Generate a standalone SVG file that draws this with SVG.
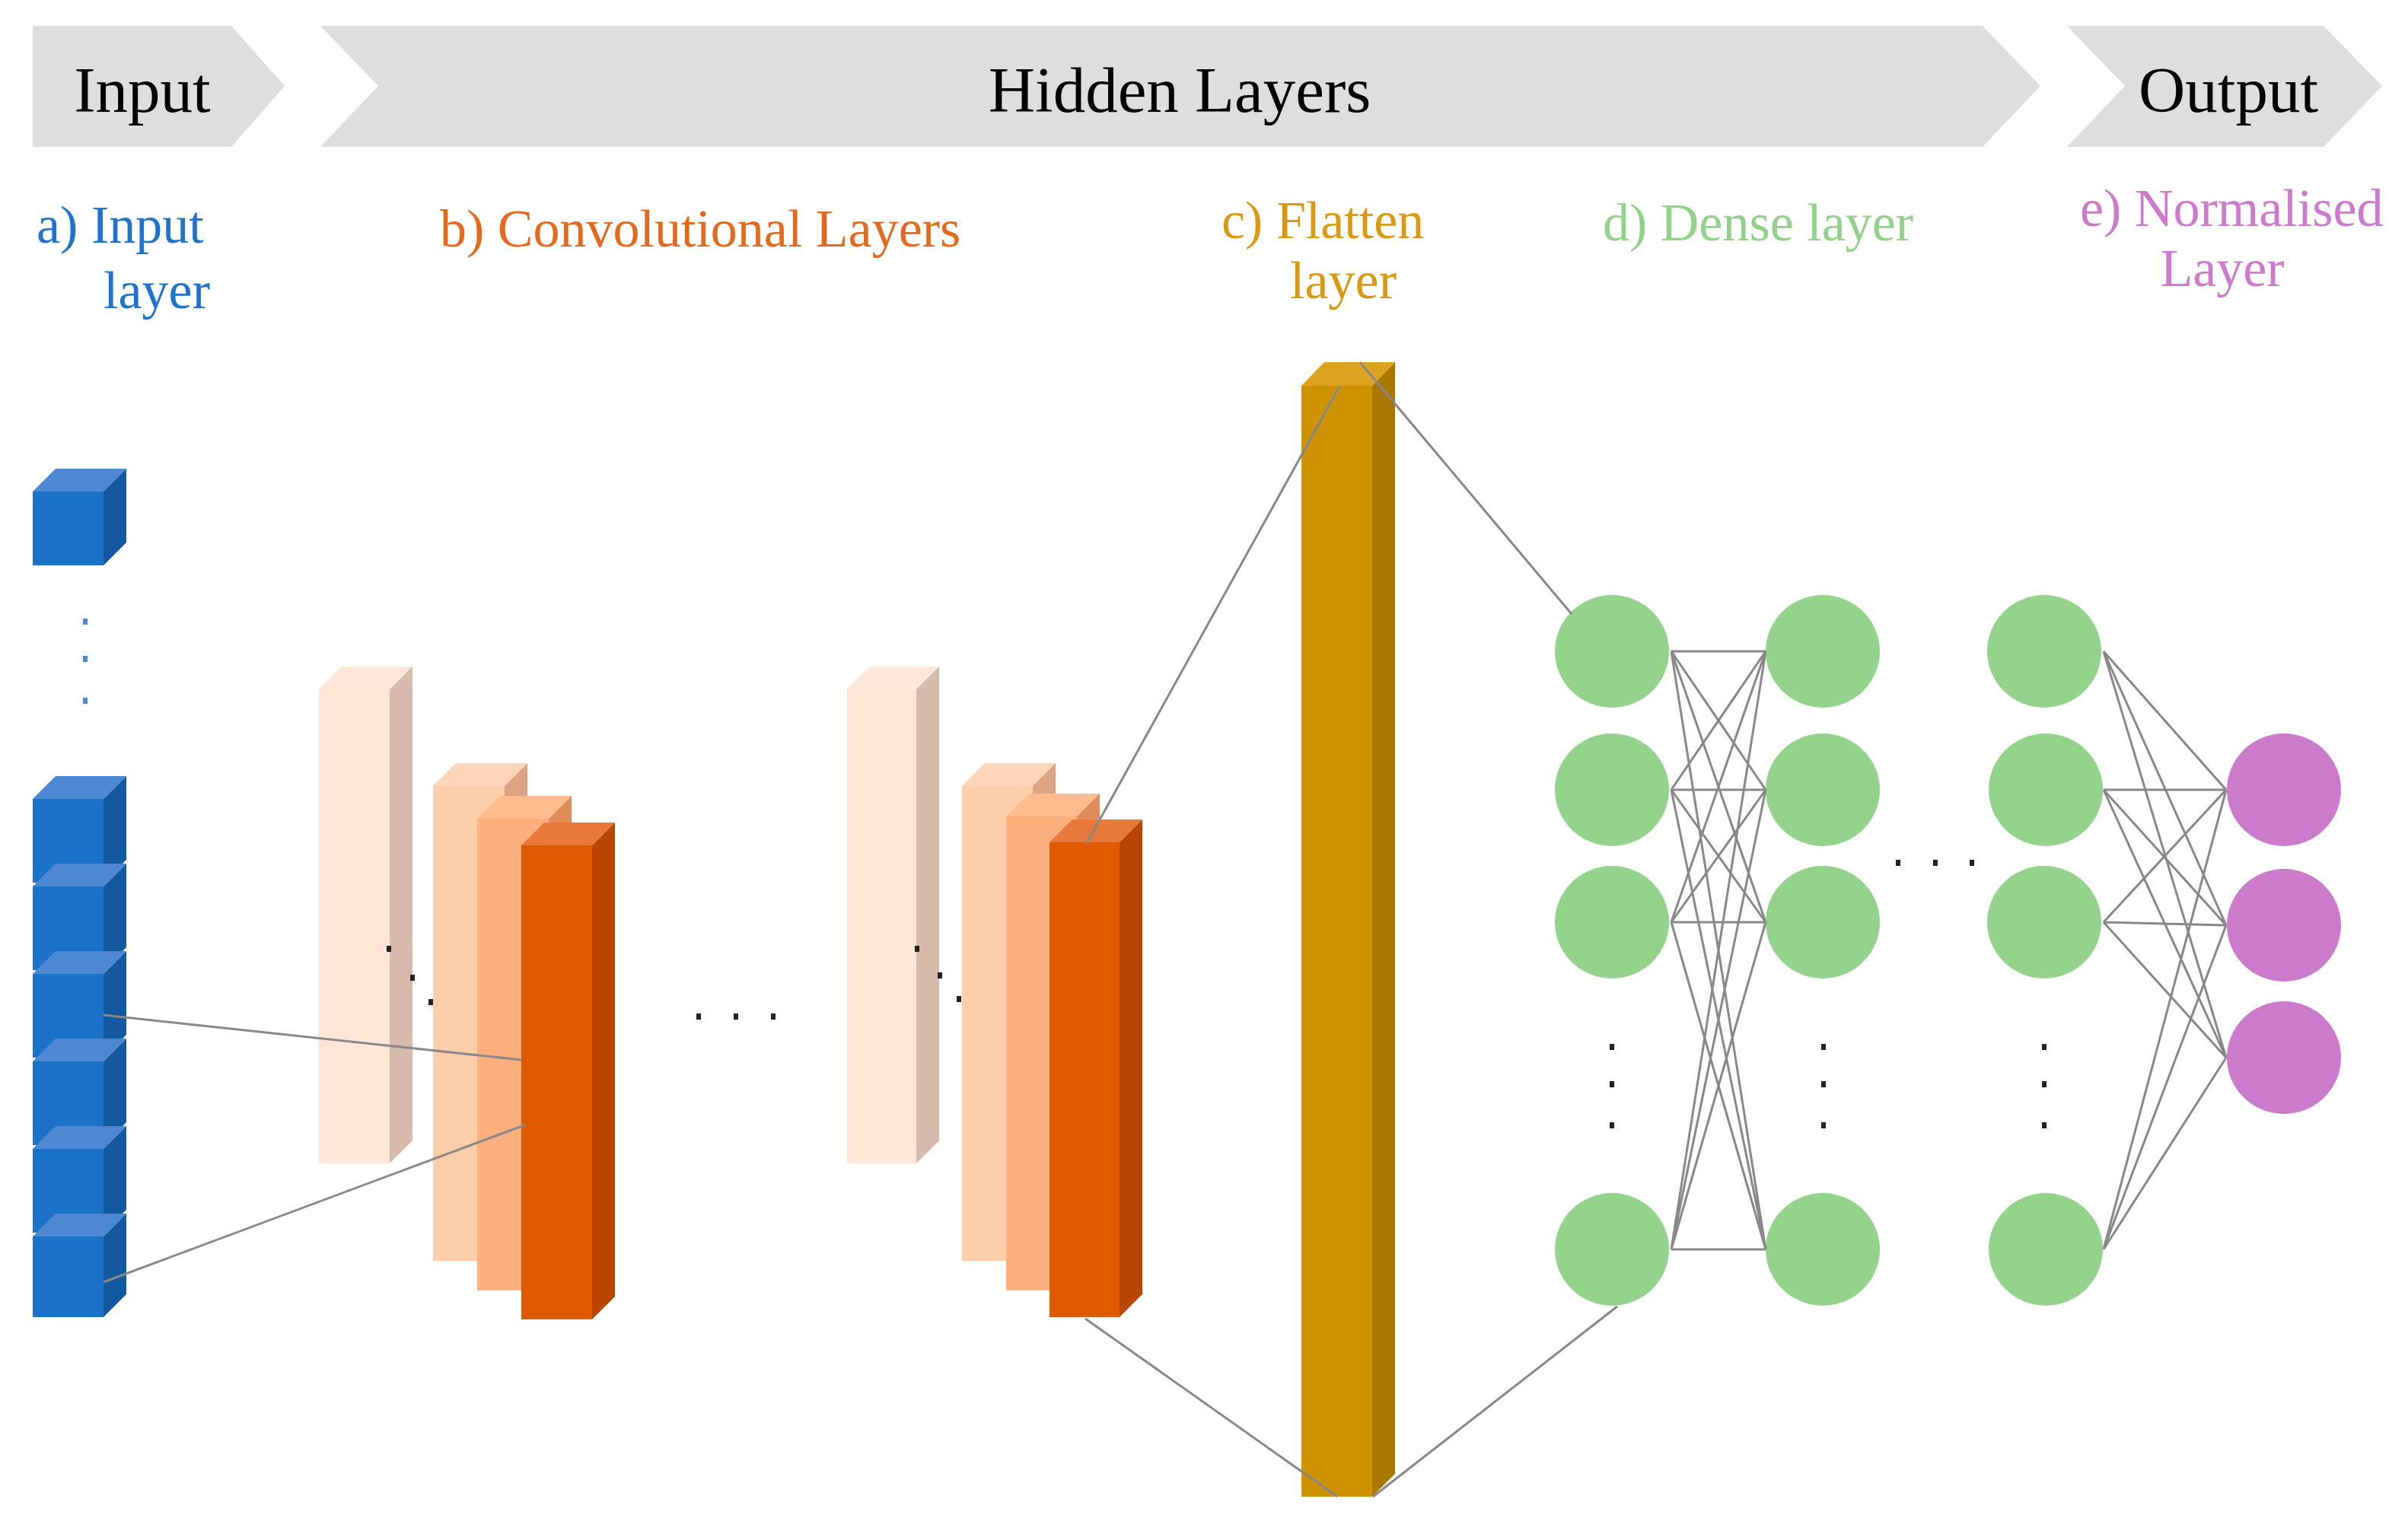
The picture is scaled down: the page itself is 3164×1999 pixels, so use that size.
<svg xmlns="http://www.w3.org/2000/svg" width="3164" height="1999" viewBox="0 0 3164 1999">
<style>
text{font-family:"Liberation Serif","Times New Roman",serif}
.bn{font-size:85px;fill:#000;text-anchor:middle}
.lb{font-size:70px}
.ln{stroke:#888;stroke-width:3;fill:none}
.dot{fill:#222}
.bd{fill:#4f88d2}
.g{fill:#94d38c}
.p{fill:#cc7acc}
</style>
<rect width="3164" height="1999" fill="#fff"/>
<g id="banner">
<polygon points="43,34 304,34 374,113 304,193 43,193" fill="#dedede"/>
<polygon points="421,34 2605,34 2681,113 2605,193 421,193 497,113" fill="#dedede"/>
<polygon points="2716,34 3053,34 3130,113 3053,193 2716,193 2792,113" fill="#dedede"/>
<text class="bn" x="187" y="147">Input</text>
<text class="bn" x="1550" y="147">Hidden Layers</text>
<text class="bn" x="2928" y="147">Output</text>
</g>
<g id="labels">
<text class="lb" x="48" y="319" fill="#1f73cc">a) Input</text>
<text class="lb" x="276" y="405" fill="#1f73cc" text-anchor="end">layer</text>
<text class="lb" x="578" y="324" fill="#e36a1c">b) Convolutional Layers</text>
<text class="lb" x="1605" y="313" fill="#d99a12">c) Flatten</text>
<text class="lb" x="1765" y="392" fill="#d99a12" text-anchor="middle">layer</text>
<text class="lb" x="2106" y="316" fill="#93d08b">d) Dense layer</text>
<text class="lb" x="2733" y="297" fill="#cc7acc">e) Normalised</text>
<text class="lb" x="2920" y="376" fill="#cc7acc" text-anchor="middle">Layer</text>
</g>
<g id="input-layer">
<g id="cube-top">
<rect x="43" y="646" width="93" height="97" fill="#1a72c9"/>
<polygon points="43,646 73,616 166,616 136,646" fill="#4f88d2"/>
<polygon points="136,646 166,616 166,713 136,743" fill="#13599f"/>
</g>
<rect class="bd" x="109" y="813" width="6" height="8"/>
<rect class="bd" x="109" y="862" width="6" height="8"/>
<rect class="bd" x="109" y="917" width="6" height="8"/>
<g id="cube-stack">
<rect x="43" y="1050" width="93" height="110" fill="#1a72c9"/>
<polygon points="43,1050 73,1020 166,1020 136,1050" fill="#4f88d2"/>
<polygon points="136,1050 166,1020 166,1130 136,1160" fill="#13599f"/>
<rect x="43" y="1165" width="93" height="110" fill="#1a72c9"/>
<polygon points="43,1165 73,1135 166,1135 136,1165" fill="#4f88d2"/>
<polygon points="136,1165 166,1135 166,1245 136,1275" fill="#13599f"/>
<rect x="43" y="1280" width="93" height="110" fill="#1a72c9"/>
<polygon points="43,1280 73,1250 166,1250 136,1280" fill="#4f88d2"/>
<polygon points="136,1280 166,1250 166,1360 136,1390" fill="#13599f"/>
<rect x="43" y="1395" width="93" height="110" fill="#1a72c9"/>
<polygon points="43,1395 73,1365 166,1365 136,1395" fill="#4f88d2"/>
<polygon points="136,1395 166,1365 166,1475 136,1505" fill="#13599f"/>
<rect x="43" y="1510" width="93" height="110" fill="#1a72c9"/>
<polygon points="43,1510 73,1480 166,1480 136,1510" fill="#4f88d2"/>
<polygon points="136,1510 166,1480 166,1590 136,1620" fill="#13599f"/>
<rect x="43" y="1625" width="93" height="106" fill="#1a72c9"/>
<polygon points="43,1625 73,1595 166,1595 136,1625" fill="#4f88d2"/>
<polygon points="136,1625 166,1595 166,1701 136,1731" fill="#13599f"/>
</g>
</g>
<g id="conv-1">
<rect x="419" y="906" width="93" height="623" fill="#ffe5d6"/>
<polygon points="419,906 449,876 542,876 512,906" fill="#ffe8db"/>
<polygon points="512,906 542,876 542,1499 512,1529" fill="#d6baab"/>
<rect x="569" y="1033" width="94" height="624" fill="#fecdaa"/>
<polygon points="569,1033 599,1003 693,1003 663,1033" fill="#ffd4b8"/>
<polygon points="663,1033 693,1003 693,1627 663,1657" fill="#dea383"/>
<rect x="627" y="1076" width="94" height="620" fill="#fdb07e"/>
<polygon points="627,1076 657,1046 751,1046 721,1076" fill="#fdbb8e"/>
<polygon points="721,1076 751,1046 751,1666 721,1696" fill="#e08c5a"/>
<rect x="685" y="1111" width="93" height="623" fill="#e05a00"/>
<polygon points="685,1111 715,1081 808,1081 778,1111" fill="#e8793a"/>
<polygon points="778,1111 808,1081 808,1704 778,1734" fill="#b84500"/>
<rect class="dot" x="508" y="1243" width="6" height="8"/>
<rect class="dot" x="539" y="1281" width="6" height="8"/>
<rect class="dot" x="563" y="1313" width="6" height="8"/>
</g>
<g id="conv-dots">
<rect class="dot" x="915" y="1332" width="6" height="8"/>
<rect class="dot" x="964" y="1332" width="6" height="8"/>
<rect class="dot" x="1013" y="1332" width="6" height="8"/>
</g>
<g id="conv-2">
<rect x="1113" y="906" width="91" height="623" fill="#ffe5d6"/>
<polygon points="1113,906 1143,876 1234,876 1204,906" fill="#ffe8db"/>
<polygon points="1204,906 1234,876 1234,1499 1204,1529" fill="#d6baab"/>
<rect x="1264" y="1033" width="93" height="624" fill="#fecdaa"/>
<polygon points="1264,1033 1294,1003 1387,1003 1357,1033" fill="#ffd4b8"/>
<polygon points="1357,1033 1387,1003 1387,1627 1357,1657" fill="#dea383"/>
<rect x="1322" y="1073" width="93" height="623" fill="#fdb07e"/>
<polygon points="1322,1073 1352,1043 1445,1043 1415,1073" fill="#fdbb8e"/>
<polygon points="1415,1073 1445,1043 1445,1666 1415,1696" fill="#e08c5a"/>
<rect x="1379" y="1107" width="92" height="624" fill="#e05a00"/>
<polygon points="1379,1107 1409,1077 1501,1077 1471,1107" fill="#e8793a"/>
<polygon points="1471,1107 1501,1077 1501,1701 1471,1731" fill="#b84500"/>
<rect class="dot" x="1202" y="1243" width="6" height="8"/>
<rect class="dot" x="1232" y="1278" width="6" height="8"/>
<rect class="dot" x="1257" y="1309" width="6" height="8"/>
</g>
<g id="flatten">
<rect x="1710" y="507" width="93" height="1460" fill="#cf9200"/>
<polygon points="1710,507 1740,476 1833,476 1803,507" fill="#dca41e"/>
<polygon points="1803,507 1833,476 1833,1937 1803,1967" fill="#a87800"/>
</g>
<g id="dense">
<ellipse class="g" cx="2118" cy="856" rx="75" ry="74"/>
<ellipse class="g" cx="2118" cy="1038" rx="75" ry="74"/>
<ellipse class="g" cx="2118" cy="1212" rx="75" ry="74"/>
<ellipse class="g" cx="2118" cy="1642" rx="75" ry="74"/>
<ellipse class="g" cx="2395" cy="856" rx="75" ry="74"/>
<ellipse class="g" cx="2395" cy="1038" rx="75" ry="74"/>
<ellipse class="g" cx="2395" cy="1212" rx="75" ry="74"/>
<ellipse class="g" cx="2395" cy="1642" rx="75" ry="74"/>
<ellipse class="g" cx="2686" cy="856" rx="75" ry="74"/>
<ellipse class="g" cx="2688" cy="1038" rx="75" ry="74"/>
<ellipse class="g" cx="2686" cy="1212" rx="75" ry="74"/>
<ellipse class="g" cx="2688" cy="1642" rx="75" ry="74"/>
<rect class="dot" x="2115" y="1372" width="6" height="8"/><rect class="dot" x="2115" y="1421" width="6" height="8"/><rect class="dot" x="2115" y="1475" width="6" height="8"/>
<rect class="dot" x="2393" y="1372" width="6" height="8"/><rect class="dot" x="2393" y="1421" width="6" height="8"/><rect class="dot" x="2393" y="1475" width="6" height="8"/>
<rect class="dot" x="2683" y="1372" width="6" height="8"/><rect class="dot" x="2683" y="1421" width="6" height="8"/><rect class="dot" x="2683" y="1475" width="6" height="8"/>
<rect class="dot" x="2491" y="1130" width="6" height="8"/><rect class="dot" x="2540" y="1130" width="6" height="8"/><rect class="dot" x="2588" y="1130" width="6" height="8"/>
</g>
<g id="output">
<ellipse class="p" cx="3001" cy="1038" rx="75" ry="74"/>
<ellipse class="p" cx="3001" cy="1216" rx="75" ry="74"/>
<ellipse class="p" cx="3001" cy="1390" rx="75" ry="74"/>
</g>
<g id="connectors" class="ln">
<line x1="136" y1="1334" x2="685" y2="1393"/>
<line x1="136" y1="1685" x2="691" y2="1478"/>
<line x1="1428" y1="1108" x2="1760" y2="508"/>
<line x1="1787" y1="476" x2="2065" y2="807"/>
<line x1="1426" y1="1733" x2="1757" y2="1967"/>
<line x1="1804" y1="1967" x2="2125" y2="1717"/>
<path d="M2196,856L2320,856M2196,856L2320,1038M2196,856L2320,1212M2196,856L2320,1642
M2196,1038L2320,856M2196,1038L2320,1038M2196,1038L2320,1212M2196,1038L2320,1642
M2196,1212L2320,856M2196,1212L2320,1038M2196,1212L2320,1212M2196,1212L2320,1642
M2196,1642L2320,856M2196,1642L2320,1038M2196,1642L2320,1212M2196,1642L2320,1642"/>
<path d="M2764,856L2925,1038M2764,856L2925,1216M2764,856L2925,1390
M2764,1038L2925,1038M2764,1038L2925,1216M2764,1038L2925,1390
M2764,1212L2925,1038M2764,1212L2925,1216M2764,1212L2925,1390
M2764,1642L2925,1038M2764,1642L2925,1216M2764,1642L2925,1390"/>
</g>
</svg>
